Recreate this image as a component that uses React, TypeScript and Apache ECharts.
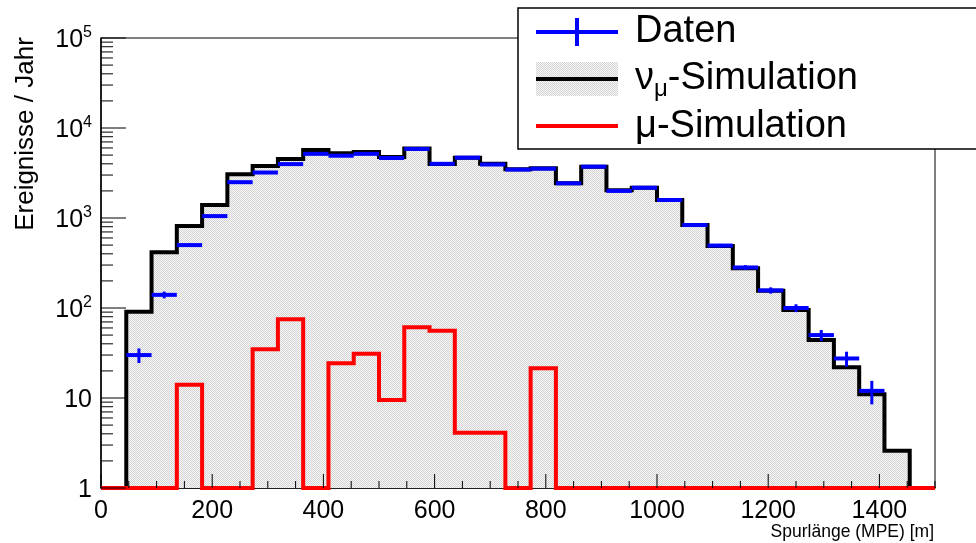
import React, { useEffect, useRef } from "react";
import * as echarts from "echarts";

const X_MIN = 0;
const X_MAX = 1500;
const N_BINS = 33;
const Y_MIN = 1;
const Y_MAX = 100000;

// nu_mu simulation (black, filled)
const NUMU_SIM = [
  0, 91, 416, 815, 1394, 3057, 3784, 4525, 5700, 5235, 5410, 4760, 5900, 3970, 4680, 4000, 3470,
  3560, 2430, 3720, 2040, 2170, 1585, 835, 490, 277, 155, 95, 44, 22, 11, 2.6, 0,
];
// mu simulation (red)
const MU_SIM = [
  0, 0, 0, 14, 0, 0, 34.7, 75, 0, 24.3, 31, 9.5, 61, 56, 4.1, 4.1, 0, 21.4, 0, 0, 0, 0, 0, 0, 0,
  0, 0, 0, 0, 0, 0, 0, 0,
];
// data (blue)
const DATEN = [
  null, 30, 140, 500, 1050, 2500, 3200, 3970, 5160, 4920, 5160, 4640, 5850, 4000, 4680, 3930, 3450,
  3530, 2430, 3720, 2000, 2170, 1585, 835, 494, 282, 157, 100, 50, 27.5, 12, null, null,
];
const DATEN_ERR = [
  0, 5.5, 12, 22, 32, 50, 57, 63, 72, 70, 72, 68, 76, 63, 68, 63, 59, 59, 49, 61, 45, 47, 40, 29,
  22, 17, 12.5, 10, 7, 5.2, 3.5, 0, 0,
];

const X_TICK_LABELS = [0, 200, 400, 600, 800, 1000, 1200, 1400];
const X_MAJOR_STEP = 200;
const X_MINOR_STEP = 50;
const Y_DECADES = [1, 10, 100, 1000, 10000, 100000];

const FONT = "'Liberation Sans', Arial, Helvetica, sans-serif";

function stepData(vals: number[]) {
  const w = (X_MAX - X_MIN) / N_BINS;
  const out: number[][] = [];
  for (let k = 0; k < vals.length; k++) out.push([X_MIN + k * w, Math.max(vals[k], Y_MIN)]);
  out.push([X_MAX, Math.max(vals[vals.length - 1], Y_MIN)]);
  return out;
}

export default function App() {
  const ref = useRef<HTMLDivElement>(null);
  useEffect(() => {
    if (!ref.current) return;
    const chart = echarts.init(ref.current, undefined, { renderer: "svg" });

    const c = document.createElement("canvas");
    c.width = 2;
    c.height = 2;
    const ctx = c.getContext("2d")!;
    ctx.fillStyle = "#f8f8f8";
    ctx.fillRect(0, 0, 2, 2);
    ctx.fillStyle = "#d3d3d3";
    ctx.fillRect(0, 0, 1, 1);
    ctx.fillRect(1, 1, 1, 1);
    const pattern: any = { image: c, repeat: "repeat" };

    const w = (X_MAX - X_MIN) / N_BINS;
    const dataItems: number[][] = [];
    DATEN.forEach((v, k) => {
      if (v != null) dataItems.push([X_MIN + k * w, X_MIN + (k + 1) * w, v, DATEN_ERR[k]]);
    });

    const yTicks: number[][] = [];
    Y_DECADES.forEach((d, i) => {
      yTicks.push([X_MIN, d, 25]);
      if (i < Y_DECADES.length - 1) for (let m = 2; m <= 9; m++) yTicks.push([X_MIN, d * m, 12]);
    });
    const xTicks: number[][] = [];
    for (let v = X_MIN; v <= X_MAX; v += X_MINOR_STEP) {
      xTicks.push([v, Y_MIN, v % X_MAJOR_STEP === 0 ? 14 : 7]);
    }

    const supMap: Record<number, string> = { 100: "2", 1000: "3", 10000: "4", 100000: "5" };

    chart.setOption({
      animation: false,
      grid: {
        left: 101,
        top: 38,
        width: 834,
        height: 450,
        show: true,
        borderColor: "#000",
        borderWidth: 1,
        backgroundColor: "transparent",
      },
      xAxis: {
        type: "value",
        min: X_MIN,
        max: X_MAX,
        interval: X_MAJOR_STEP,
        splitLine: { show: false },
        axisLine: { lineStyle: { color: "#000", width: 1.5 } },
        axisTick: { show: false },
        axisLabel: {
          color: "#000",
          fontSize: 25,
          fontFamily: FONT,
          margin: 8,
          showMaxLabel: false,
          formatter: (v: number) => (X_TICK_LABELS.includes(v) ? String(v) : ""),
        },
      },
      yAxis: {
        type: "log",
        logBase: 10,
        min: Y_MIN,
        max: Y_MAX,
        splitLine: { show: false },
        axisLine: { lineStyle: { color: "#000", width: 1.5 } },
        axisTick: { show: false },
        axisLabel: {
          color: "#000",
          fontSize: 25,
          fontFamily: FONT,
          margin: 9,
          formatter: (v: number) => {
            const r = Math.round(v);
            if (supMap[r]) return `{b|10}{s|${supMap[r]}}`;
            return String(r);
          },
          rich: {
            b: { fontSize: 25, fontFamily: FONT, color: "#000" },
            s: { fontSize: 16, fontFamily: FONT, color: "#000", padding: [0, 0, 14, 0] },
          },
        },
      },
      series: [
        {
          name: "numu",
          type: "line",
          step: "end",
          symbol: "none",
          clip: false,
          data: stepData(NUMU_SIM),
          lineStyle: { color: "#000", width: 4, join: "miter" },
          areaStyle: { color: pattern, origin: "start", opacity: 1 },
          z: 2,
        },
        {
          name: "mu",
          type: "line",
          step: "end",
          symbol: "none",
          clip: false,
          data: stepData(MU_SIM),
          lineStyle: { color: "#ff0000", width: 4, join: "miter" },
          z: 3,
        },
        {
          name: "daten",
          type: "custom",
          z: 4,
          encode: { x: [0, 1], y: 2 },
          data: dataItems,
          renderItem: (params: any, api: any) => {
            const x0 = api.value(0);
            const x1 = api.value(1);
            const y = api.value(2);
            const e = api.value(3);
            const xc = (x0 + x1) / 2;
            const pL = api.coord([x0, y]);
            const pR = api.coord([x1, y]);
            const pH = api.coord([xc, y + e]);
            const pLo = api.coord([xc, Math.max(y - e, Y_MIN)]);
            return {
              type: "group",
              children: [
                {
                  type: "line",
                  shape: { x1: pL[0], y1: pL[1], x2: pR[0], y2: pR[1] },
                  style: { stroke: "#0000ff", lineWidth: 4 },
                },
                {
                  type: "line",
                  shape: { x1: pH[0], y1: pH[1], x2: pLo[0], y2: pLo[1] },
                  style: { stroke: "#0000ff", lineWidth: 3 },
                },
              ],
            };
          },
        },
        {
          name: "yticks",
          type: "custom",
          z: 6,
          silent: true,
          encode: { x: 0, y: 1 },
          data: yTicks,
          renderItem: (params: any, api: any) => {
            const p = api.coord([api.value(0), api.value(1)]);
            const len = api.value(2);
            return {
              type: "line",
              shape: { x1: p[0], y1: p[1], x2: p[0] + len, y2: p[1] },
              style: { stroke: "#000", lineWidth: 1 },
            };
          },
        },
        {
          name: "xticks",
          type: "custom",
          z: 6,
          silent: true,
          encode: { x: 0, y: 1 },
          data: xTicks,
          renderItem: (params: any, api: any) => {
            const p = api.coord([api.value(0), api.value(1)]);
            const len = api.value(2);
            return {
              type: "line",
              shape: { x1: p[0], y1: p[1], x2: p[0], y2: p[1] - len },
              style: { stroke: "#000", lineWidth: 1 },
            };
          },
        },
      ],
      graphic: [
        {
          type: "text",
          x: 24,
          y: 134,
          rotation: Math.PI / 2,
          style: {
            text: "Ereignisse / Jahr",
            fontSize: 26,
            fontFamily: FONT,
            fill: "#000",
            align: "center",
            verticalAlign: "middle",
          },
        },
        {
          type: "text",
          x: 934,
          y: 531,
          style: {
            text: "Spurlänge (MPE) [m]",
            fontSize: 17.5,
            fontFamily: FONT,
            fill: "#000",
            align: "right",
            verticalAlign: "middle",
          },
        },
        {
          type: "group",
          z: 100,
          children: [
            {
              type: "rect",
              shape: { x: 518, y: 8, width: 470, height: 141 },
              style: { fill: "#fff", stroke: "#000", lineWidth: 1.5 },
            },
            {
              type: "line",
              shape: { x1: 536, y1: 32, x2: 618, y2: 32 },
              style: { stroke: "#0000ff", lineWidth: 4 },
            },
            {
              type: "line",
              shape: { x1: 577, y1: 18, x2: 577, y2: 46 },
              style: { stroke: "#0000ff", lineWidth: 4 },
            },
            {
              type: "text",
              x: 635,
              y: 29,
              style: {
                text: "Daten",
                fontSize: 38,
                fontFamily: FONT,
                fill: "#000",
                verticalAlign: "middle",
              },
            },
            {
              type: "rect",
              shape: { x: 536, y: 62, width: 82, height: 34 },
              style: { fill: pattern },
            },
            {
              type: "line",
              shape: { x1: 536, y1: 79, x2: 618, y2: 79 },
              style: { stroke: "#000", lineWidth: 4 },
            },
            {
              type: "text",
              x: 635,
              y: 76,
              style: {
                text: "{a|ν}{s|μ}{a|-Simulation}",
                fill: "#000",
                verticalAlign: "middle",
                rich: {
                  a: { fontSize: 38, fontFamily: FONT, fill: "#000" },
                  s: { fontSize: 24, fontFamily: FONT, fill: "#000", padding: [22, 0, 0, 0] },
                },
              },
            },
            {
              type: "line",
              shape: { x1: 536, y1: 126, x2: 618, y2: 126 },
              style: { stroke: "#ff0000", lineWidth: 4 },
            },
            {
              type: "text",
              x: 635,
              y: 124,
              style: {
                text: "μ-Simulation",
                fontSize: 38,
                fontFamily: FONT,
                fill: "#000",
                verticalAlign: "middle",
              },
            },
          ],
        },
      ],
    });
    return () => chart.dispose();
  }, []);
  return (
    <div
      ref={ref}
      style={{ position: "fixed", left: 0, top: 0, width: 976, height: 543 }}
    />
  );
}
